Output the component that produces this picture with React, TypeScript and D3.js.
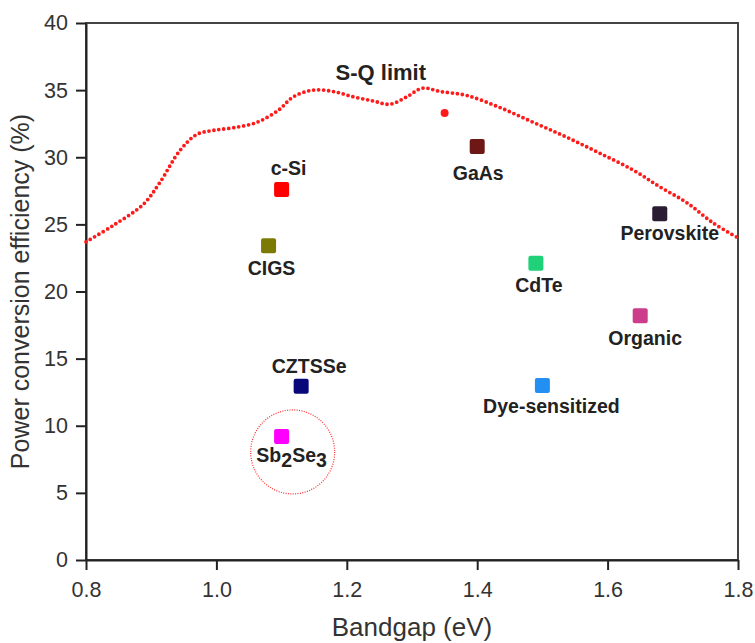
import React, { useEffect, useRef } from 'react';
import * as d3 from 'd3';

// Shockley–Queisser limit
const sqBandgap = [0.80, 0.841, 0.888, 0.913, 0.944, 0.970, 0.995, 1.026, 1.062, 1.095, 1.118, 1.148, 1.179, 1.21, 1.24, 1.266, 1.292, 1.316, 1.343, 1.384, 1.435, 1.486, 1.537, 1.588, 1.639, 1.680, 1.722, 1.762, 1.80];
const sqEfficiency = [23.7, 24.9, 26.5, 28.1, 30.5, 31.7, 32.0, 32.2, 32.6, 33.5, 34.5, 35.0, 34.9, 34.5, 34.2, 33.95, 34.5, 35.15, 34.9, 34.6, 33.7, 32.6, 31.5, 30.3, 29.05, 27.8, 26.6, 25.1, 24.0];

// lone red point near the S-Q curve
const extraPoint = { bandgap: 1.35, efficiency: 33.3 };

// solar cell technologies
const cellNames = ['c-Si', 'CIGS', 'GaAs', 'Perovskite', 'CdTe', 'Organic', 'Dye-sensitized', 'CZTSSe', 'Sb2Se3'];
const cellBandgap = [1.10, 1.08, 1.40, 1.68, 1.49, 1.65, 1.50, 1.13, 1.10];
const cellEfficiency = [27.6, 23.4, 30.8, 25.8, 22.1, 18.2, 13.0, 12.95, 9.2];
const cellColors = ['#ff0000', '#7c7a05', '#6e1717', '#2a1c33', '#1fd27a', '#cc3d8c', '#2290f2', '#08087a', '#ff00ff'];

// highlight circle around Sb2Se3
const circleCenter = { bandgap: 1.117, efficiency: 8.05 };

const xTicks = [0.8, 1.0, 1.2, 1.4, 1.6, 1.8];
const yTicks = [0, 5, 10, 15, 20, 25, 30, 35, 40];

// label placement (pixel offsets from marker centre to text baseline)
const labelOffsets: Record<string, [number, number]> = {
  'c-Si': [7, -14],
  CIGS: [3, 29],
  GaAs: [1, 33],
  Perovskite: [10, 26.5],
  CdTe: [3, 28.5],
  Organic: [5, 29],
  'Dye-sensitized': [9, 28],
  CZTSSe: [8, -13],
  Sb2Se3: [10, 26],
};

const FONT = 'Liberation Sans, Arial, Helvetica, sans-serif';

const App = () => {
  const svgRef = useRef<SVGSVGElement>(null);

  useEffect(() => {
    const root = d3.select(svgRef.current);
    root.selectAll('*').remove();

    const W = 755;
    const H = 643;
    const margin = { top: 23, right: 17, bottom: 83, left: 86 };
    const width = W - margin.left - margin.right;
    const height = H - margin.top - margin.bottom;

    root.attr('width', W).attr('height', H);
    const svg = root.append('g').attr('transform', `translate(${margin.left},${margin.top})`);

    const x = d3.scaleLinear().domain([0.8, 1.8]).range([0, width]);
    const y = d3.scaleLinear().domain([0, 40]).range([height, 0]);

    // frame
    svg.append('rect')
      .attr('x', 0).attr('y', 0)
      .attr('width', width).attr('height', height)
      .attr('fill', 'none')
      .attr('stroke', '#444')
      .attr('stroke-width', 2);

    // Y axis
    const yAxis = svg.append('g')
      .call(d3.axisLeft(y).tickValues(yTicks).tickSize(10).tickSizeOuter(0).tickPadding(8).tickFormat(d3.format('d')));
    yAxis.select('.domain').attr('stroke', '#222').attr('stroke-width', 2);
    yAxis.selectAll('.tick line').attr('stroke', '#222').attr('stroke-width', 2);
    yAxis.selectAll('.tick text')
      .attr('fill', '#333')
      .style('font-family', FONT)
      .style('font-size', '21.5px');

    // X axis
    const xAxis = svg.append('g')
      .attr('transform', `translate(0,${height})`)
      .call(d3.axisBottom(x).tickValues(xTicks).tickSize(10).tickSizeOuter(0).tickPadding(12).tickFormat(d3.format('.1f')));
    xAxis.select('.domain').attr('stroke', '#222').attr('stroke-width', 2);
    xAxis.selectAll('.tick line').attr('stroke', '#222').attr('stroke-width', 2);
    xAxis.selectAll('.tick text')
      .attr('fill', '#333')
      .style('font-family', FONT)
      .style('font-size', '21.5px');

    // axis titles
    svg.append('text')
      .attr('x', width / 2)
      .attr('y', height + 76)
      .attr('text-anchor', 'middle')
      .attr('fill', '#333')
      .style('font-family', FONT)
      .style('font-size', '26px')
      .text('Bandgap (eV)');

    svg.append('text')
      .attr('transform', 'rotate(-90)')
      .attr('x', -height / 2)
      .attr('y', -57)
      .attr('text-anchor', 'middle')
      .attr('fill', '#333')
      .style('font-family', FONT)
      .style('font-size', '25px')
      .text('Power conversion efficiency (%)');

    // S-Q limit curve (dotted)
    const line = d3.line<number>()
      .x((_, i) => x(sqBandgap[i]))
      .y(d => y(d))
      .curve(d3.curveCatmullRom.alpha(0.5));

    svg.append('path')
      .datum(sqEfficiency)
      .attr('d', line)
      .attr('fill', 'none')
      .attr('stroke', '#ff1a1a')
      .attr('stroke-width', 3.8)
      .attr('stroke-linecap', 'round')
      .attr('stroke-dasharray', '0 5');

    svg.append('text')
      .attr('x', x(1.2) + 34)
      .attr('y', y(40) + 57)
      .attr('text-anchor', 'middle')
      .attr('fill', '#222')
      .style('font-family', FONT)
      .style('font-size', '22px')
      .style('font-weight', 'bold')
      .text('S-Q limit');

    svg.append('circle')
      .attr('cx', x(extraPoint.bandgap))
      .attr('cy', y(extraPoint.efficiency))
      .attr('r', 4)
      .attr('fill', '#ff1a1a');

    // highlight circle
    svg.append('circle')
      .attr('cx', x(circleCenter.bandgap))
      .attr('cy', y(circleCenter.efficiency))
      .attr('r', 42)
      .attr('fill', 'none')
      .attr('stroke', '#ff2a2a')
      .attr('stroke-width', 1.2)
      .attr('stroke-dasharray', '1 1.4');

    // cell markers
    const size = 15;
    cellNames.forEach((name, i) => {
      const cx = x(cellBandgap[i]);
      const cy = y(cellEfficiency[i]);
      svg.append('rect')
        .attr('x', cx - size / 2)
        .attr('y', cy - size / 2)
        .attr('width', size)
        .attr('height', size)
        .attr('rx', 2)
        .attr('fill', cellColors[i]);

      const [dx, dy] = labelOffsets[name];
      const t = svg.append('text')
        .attr('x', cx + dx)
        .attr('y', cy + dy)
        .attr('text-anchor', 'middle')
        .attr('fill', '#222')
        .style('font-family', FONT)
        .style('font-size', '19.5px')
        .style('font-weight', 'bold');

      if (name === 'Sb2Se3') {
        t.append('tspan').text('Sb');
        t.append('tspan').attr('dy', 5).text('2');
        t.append('tspan').attr('dy', -5).text('Se');
        t.append('tspan').attr('dy', 5).text('3');
      } else {
        t.text(name);
      }
    });
  }, []);

  return (
    <div style={{ position: 'absolute', left: 0, top: 0, background: '#fff' }}>
      <svg ref={svgRef} style={{ display: 'block' }}></svg>
    </div>
  );
};

export default App;
